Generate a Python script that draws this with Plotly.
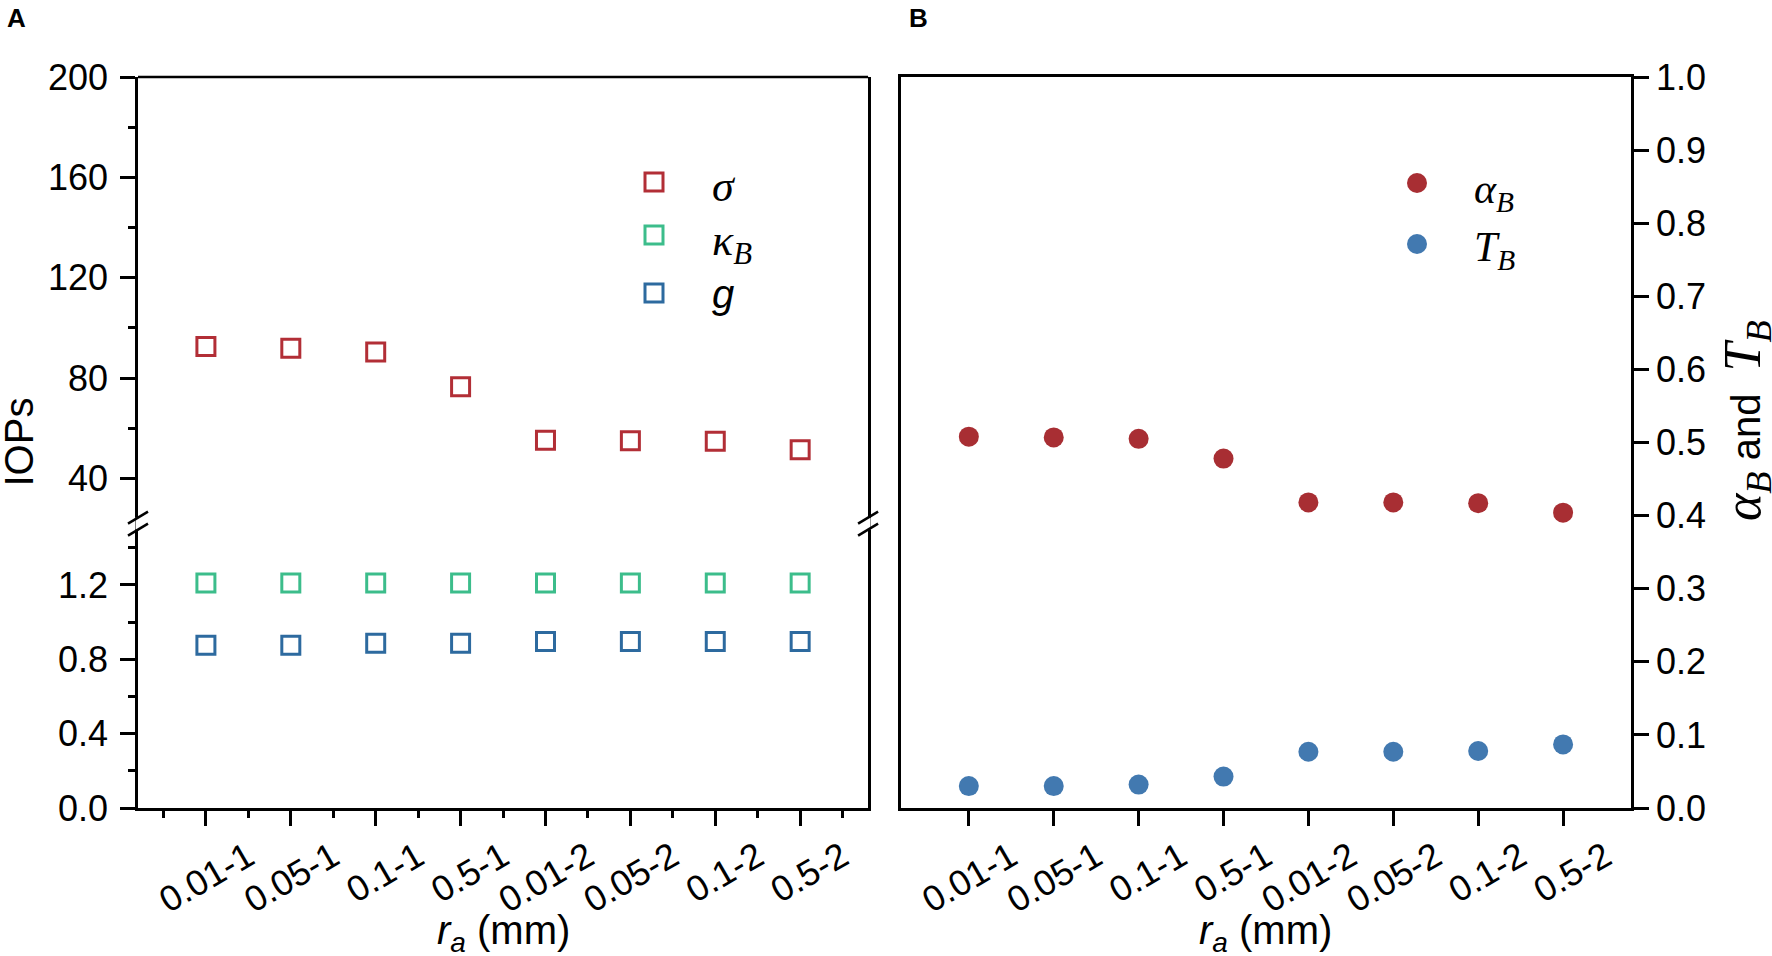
"""Two-panel scatter: IOPs (broken y axis) and alpha_B / T_B versus r_a."""
from __future__ import annotations

import plotly.graph_objects as go

# ---- data ----
ra_labels = ["0.01-1", "0.05-1", "0.1-1", "0.5-1", "0.01-2", "0.05-2", "0.1-2", "0.5-2"]

sigma = [92.6, 91.9, 90.4, 76.6, 55.2, 55.0, 54.8, 51.4]
kappa_b = [1.21, 1.21, 1.21, 1.21, 1.21, 1.21, 1.21, 1.21]
g_vals = [0.876, 0.876, 0.886, 0.886, 0.896, 0.896, 0.896, 0.896]

alpha_b = [0.508, 0.507, 0.505, 0.478, 0.418, 0.418, 0.417, 0.404]
t_b = [0.030, 0.030, 0.032, 0.043, 0.077, 0.077, 0.078, 0.087]

lower_ticks = [0.0, 0.4, 0.8, 1.2]
upper_ticks = [40, 80, 120, 160, 200]
right_ticks = [0.0, 0.1, 0.2, 0.3, 0.4, 0.5, 0.6, 0.7, 0.8, 0.9, 1.0]

# ---- style ----
SANS = "Liberation Sans, Arial, sans-serif"
SERIF = "Liberation Serif, Times New Roman, serif"
FS = 36
LW = 2.5
W, H = 1772, 956
ML, MR, MT, MB = 138, 141, 77, 148
BREAK_Y = 0.389  # paper fraction where the left axis is broken
LEFT_DOM = [0.0, 0.489]
RIGHT_DOM = [0.511, 1.0]

RED_SQ, GREEN_SQ, BLUE_SQ = "#B22E36", "#3CBD8B", "#2D6A9F"
RED_DOT, BLUE_DOT = "#A82E33", "#4279B0"

xpos = list(range(len(ra_labels)))
minor_x = [i - 0.5 for i in range(len(ra_labels) + 1)]


def serif(txt: str, size: int | None = None) -> str:
    st = f"font-family:{SERIF}"
    if size:
        st += f";font-size:{size}px"
    return f"<span style='{st}'>{txt}</span>"


def px2paper(px: float, py: float) -> tuple[float, float]:
    """screen pixel -> paper coords (for keys and labels placed off the data scales)"""
    return (px - ML) / (W - ML - MR), (H - MB - py) / (H - MT - MB)


fig = go.Figure()

# left panel: upper segment (sigma) and lower segment (kappa_B, g)
sq = dict(symbol="square-open", size=18, line=dict(width=3))
fig.add_trace(go.Scatter(x=xpos, y=sigma, mode="markers", xaxis="x", yaxis="y2",
                         name="σ", marker=dict(color=RED_SQ, **sq)))
fig.add_trace(go.Scatter(x=xpos, y=kappa_b, mode="markers", xaxis="x", yaxis="y",
                         name="κB", marker=dict(color=GREEN_SQ, **sq)))
fig.add_trace(go.Scatter(x=xpos, y=g_vals, mode="markers", xaxis="x", yaxis="y",
                         name="g", marker=dict(color=BLUE_SQ, **sq)))

# right panel
fig.add_trace(go.Scatter(x=xpos, y=alpha_b, mode="markers", xaxis="x2", yaxis="y3",
                         name="αB", marker=dict(color=RED_DOT, size=20, symbol="circle")))
fig.add_trace(go.Scatter(x=xpos, y=t_b, mode="markers", xaxis="x2", yaxis="y3",
                         name="TB", marker=dict(color=BLUE_DOT, size=20, symbol="circle")))

axis_common = dict(
    showgrid=False, zeroline=False, showline=True, linecolor="black", linewidth=LW,
    ticks="outside", ticklen=15, tickwidth=LW, tickcolor="black", automargin=False,
    tickfont=dict(family=SANS, size=FS, color="black"),
)
x_common = dict(
    range=[-0.8, 7.8], tickmode="array", tickvals=xpos, ticktext=ra_labels, tickangle=-30,
    ticklabelshift=42, ticklabelstandoff=-4,
)
minor_common = dict(tickmode="array", ticks="outside", ticklen=7, tickwidth=LW, tickcolor="black")

fig.update_layout(
    width=W, height=H,
    margin=dict(l=ML, r=MR, t=MT, b=MB),
    paper_bgcolor="white", plot_bgcolor="white",
    font=dict(family=SANS, color="black"),
    showlegend=False,
    xaxis=dict(
        domain=LEFT_DOM, anchor="y",
        minor=dict(tickvals=minor_x, **minor_common),
        **x_common, **axis_common,
    ),
    yaxis=dict(
        domain=[0, BREAK_Y], anchor="x", range=[0, 1.53], mirror=True,
        tickmode="array", tickvals=lower_ticks, ticktext=[f"{v:.1f}" for v in lower_ticks],
        minor=dict(tickvals=[0.2, 0.6, 1.0, 1.4], **minor_common),
        ticklabelstandoff=5, **axis_common,
    ),
    yaxis2=dict(
        domain=[BREAK_Y, 1], anchor="x", range=[22, 200], mirror=True,
        tickmode="array", tickvals=upper_ticks,
        minor=dict(tickvals=[60, 100, 140, 180], **minor_common),
        ticklabelstandoff=5, **axis_common,
    ),
    xaxis2=dict(
        domain=RIGHT_DOM, anchor="y3", mirror=True,
        **x_common, **axis_common,
    ),
    yaxis3=dict(
        domain=[0, 1], anchor="x2", side="right", range=[0, 1], mirror=True,
        tickmode="array", tickvals=right_ticks, ticktext=[f"{v:.1f}" for v in right_ticks],
        ticklabelstandoff=0, **axis_common,
    ),
)

# ---- legends: keys drawn as shapes, labels as annotations ----
keys_left = [(RED_SQ, 182, serif("<i>σ</i>", 44), 186),
             (GREEN_SQ, 235, serif("<i>κ<sub>B</sub></i>", 44), 244),
             (BLUE_SQ, 293, "<i>g</i>", 294)]
for color, ky, label, ly in keys_left:
    ax, ay = px2paper(654, ky)
    fig.add_shape(type="rect", xref="paper", yref="paper", xsizemode="pixel", ysizemode="pixel",
                  xanchor=ax, yanchor=ay, x0=-9, x1=9, y0=-9, y1=9,
                  line=dict(color=color, width=3), fillcolor="rgba(0,0,0,0)")
    tx, ty = px2paper(710, ly)
    fig.add_annotation(text=label, xref="paper", yref="paper", x=tx, y=ty, showarrow=False,
                       xanchor="left", yanchor="middle", font=dict(family=SANS, size=40))

keys_right = [(RED_DOT, 183, serif("<i>α<sub>B</sub></i>", 42), 192),
              (BLUE_DOT, 244, serif("<i>T<sub>B</sub></i>", 42), 250)]
for color, ky, label, ly in keys_right:
    ax, ay = px2paper(1417, ky)
    fig.add_shape(type="circle", xref="paper", yref="paper", xsizemode="pixel", ysizemode="pixel",
                  xanchor=ax, yanchor=ay, x0=-10, x1=10, y0=-10, y1=10,
                  line=dict(width=0), fillcolor=color)
    tx, ty = px2paper(1472, ly)
    fig.add_annotation(text=label, xref="paper", yref="paper", x=tx, y=ty, showarrow=False,
                       xanchor="left", yanchor="middle", font=dict(family=SANS, size=40))

# ---- axis titles ----
x_title = "<i>r</i><sub><i>a</i></sub> (mm)"
for cx in (sum(LEFT_DOM) / 2, sum(RIGHT_DOM) / 2):
    fig.add_annotation(text=x_title, xref="paper", yref="paper", x=cx, y=px2paper(0, 906)[1],
                       showarrow=False, xanchor="center", yanchor="top",
                       font=dict(family=SANS, size=40))

fig.add_annotation(
    text="IOPs", xref="paper", yref="paper", x=px2paper(18, 0)[0], y=0.5, textangle=-90,
    showarrow=False, xanchor="center", yanchor="middle", font=dict(family=SANS, size=40),
)
fig.add_annotation(
    text=serif("<i>α<sub>B</sub></i>", 52) + " and\u00a0 " + serif("<i>T<sub>B</sub></i>", 52),
    xref="paper", yref="paper", x=px2paper(1746, 0)[0], y=px2paper(0, 421)[1], textangle=-90,
    showarrow=False, xanchor="center", yanchor="middle", font=dict(family=SANS, size=40),
)

# panel letters
for letter, lx in (("A", 5), ("B", 907)):
    fig.add_annotation(
        text=f"<b>{letter}</b>", xref="paper", yref="paper", x=px2paper(lx, 0)[0],
        y=px2paper(0, 1)[1], xanchor="left", yanchor="top", showarrow=False,
        font=dict(family=SANS, size=26),
    )

# top frame line of the left panel
fig.add_shape(type="line", xref="paper", yref="paper", x0=LEFT_DOM[0], x1=LEFT_DOM[1],
              y0=1, y1=1, line=dict(color="black", width=LW))

# axis-break marks on both sides of the left panel
for bx in LEFT_DOM:
    fig.add_shape(type="line", xref="paper", yref="paper", xsizemode="pixel", ysizemode="pixel",
                  xanchor=bx, yanchor=BREAK_Y, x0=0, x1=0, y0=-6, y1=6,
                  line=dict(color="white", width=5))
    for dy in (6, -6):
        fig.add_shape(type="line", xref="paper", yref="paper", xsizemode="pixel",
                      ysizemode="pixel", xanchor=bx, yanchor=BREAK_Y,
                      x0=-10, x1=10, y0=dy - 6, y1=dy + 6,
                      line=dict(color="black", width=LW))

# drop the browser's default 8px body margin so the figure starts at the page corner
fig.write_html("out.html", config={"displayModeBar": False},
               post_script="document.body.style.margin='0';")
